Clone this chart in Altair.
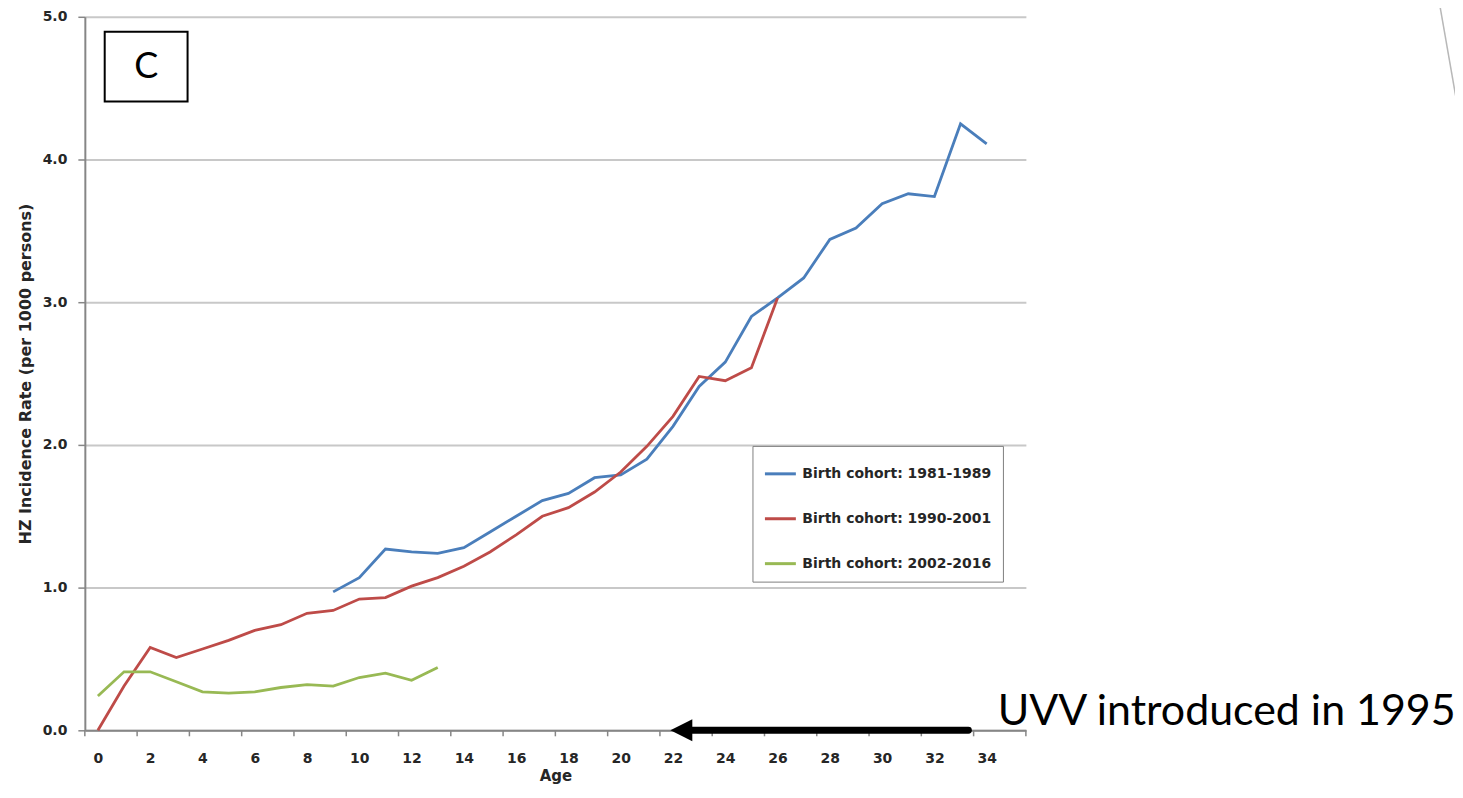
import altair as alt
import pandas as pd

# ---------------- data ----------------
cohorts = ["Birth cohort: 1981-1989", "Birth cohort: 1990-2001", "Birth cohort: 2002-2016"]
colors = ["#4A7EBB", "#BE4B48", "#98B954"]

ages_1981 = list(range(9, 35))
rate_1981 = [0.97, 1.07, 1.27, 1.25, 1.24, 1.28, 1.39, 1.50, 1.61, 1.66, 1.77, 1.79, 1.90,
             2.13, 2.41, 2.58, 2.90, 3.03, 3.17, 3.44, 3.52, 3.69, 3.76, 3.74, 4.25, 4.11]

ages_1990 = list(range(0, 27))
rate_1990 = [0.00, 0.31, 0.58, 0.51, 0.57, 0.63, 0.70, 0.74, 0.82, 0.84, 0.92, 0.93, 1.01,
             1.07, 1.15, 1.25, 1.37, 1.50, 1.56, 1.67, 1.81, 1.99, 2.20, 2.48, 2.45, 2.54, 3.03]

ages_2002 = list(range(0, 14))
rate_2002 = [0.24, 0.41, 0.41, 0.34, 0.27, 0.26, 0.27, 0.30, 0.32, 0.31, 0.37, 0.40, 0.35, 0.44]

x_label_values = list(range(0, 35, 2))
y_label_values = [0, 1, 2, 3, 4, 5]
x_tick_positions = [k - 0.5 for k in range(0, 37, 2)]   # ticks between categories

panel_letter = "C"
annotation_text = "UVV introduced in 1995"
annotation_pos = {"age": [34.42], "rate": [0.035]}
arrow_shaft = {"age": [22.6], "age2": [33.3], "rate": [0.0]}
arrow_head = {"age": [22.32], "rate": [0.0]}
letter_box = {"age": [0.26], "age2": [3.43], "rate": [4.895], "rate2": [4.406]}
letter_pos = {"age": [1.85], "rate": [4.65]}

# ---------------- tables ----------------
rows = []
for name, ages, rates in zip(cohorts, [ages_1981, ages_1990, ages_2002], [rate_1981, rate_1990, rate_2002]):
    for a, r in zip(ages, rates):
        rows.append({"age": a, "rate": r, "cohort": name})
df = pd.DataFrame(rows)

FONT = "DejaVu Sans"
AX = "#868686"
LBL = "#262626"

x_scale = alt.Scale(domain=[-0.5, 35.5], nice=False, zero=False)
y_scale = alt.Scale(domain=[0, 5], nice=False, zero=False)

x_axis = alt.Axis(values=x_label_values, ticks=False, tickSize=0, grid=False, title="Age",
                  labelFont=FONT, labelFontWeight="bold", labelFontSize=14, labelColor=LBL,
                  labelPadding=21, domainColor=AX, domainWidth=2,
                  titleFont=FONT, titleFontWeight="bold", titleFontSize=15, titleColor=LBL,
                  titleY=50, titleBaseline="alphabetic")
y_axis = alt.Axis(values=y_label_values, format=".1f", title="HZ Incidence Rate (per 1000 persons)",
                  labelFont=FONT, labelFontWeight="bold", labelFontSize=14, labelColor=LBL,
                  labelPadding=11, tickSize=7, tickColor=AX, tickWidth=1.5,
                  domainColor=AX, domainWidth=2, gridColor="#c8c8c8", gridWidth=2,
                  titleFont=FONT, titleFontWeight="bold", titleFontSize=16, titleColor=LBL,
                  titleX=-59, titleY=357.5, titleAngle=270, titleAlign="center", titleBaseline="middle")

legend = alt.Legend(title=None, orient="none", legendX=669, legendY=430, direction="vertical",
                    fillColor="white", strokeColor="#7f7f7f", padding=11,
                    symbolType="stroke", symbolSize=961, symbolStrokeWidth=3,
                    labelFont=FONT, labelFontWeight="bold", labelFontSize=14, labelColor=LBL,
                    labelLimit=400, labelOffset=5, rowPadding=21)

lines = alt.Chart(df).mark_line(strokeWidth=2.8).encode(
    x=alt.X("age:Q", scale=x_scale, axis=x_axis),
    y=alt.Y("rate:Q", scale=y_scale, axis=y_axis),
    color=alt.Color("cohort:N", scale=alt.Scale(domain=cohorts, range=colors), legend=legend),
)

ticks = alt.Chart(pd.DataFrame({"age": x_tick_positions})).mark_rule(color=AX, strokeWidth=1.5).encode(
    x="age:Q", y=alt.value(715), y2=alt.value(721)
)

box = alt.Chart(pd.DataFrame(letter_box)).mark_rect(fill="white", stroke="black", strokeWidth=2).encode(
    x="age:Q", x2="age2:Q", y="rate:Q", y2="rate2:Q"
)
letter = alt.Chart(pd.DataFrame(letter_pos)).mark_text(
    text=panel_letter, font="Lato", fontSize=36, color="black", align="center", baseline="middle"
).encode(x="age:Q", y="rate:Q")

shaft = alt.Chart(pd.DataFrame(arrow_shaft)).mark_rule(color="black", strokeWidth=7, strokeCap="round").encode(
    x="age:Q", x2="age2:Q", y="rate:Q"
)
head = alt.Chart(pd.DataFrame(arrow_head)).mark_point(
    shape="M-1,0L1,-1L1,1Z", filled=True, size=484, color="black", opacity=1
).encode(x="age:Q", y="rate:Q")

note = alt.Chart(pd.DataFrame(annotation_pos)).mark_text(
    text=annotation_text, font="Lato", fontSize=43, color="black", align="left", baseline="alphabetic"
).encode(x="age:Q", y="rate:Q")

slant = alt.Chart(pd.DataFrame({"k": [0]})).mark_rule(color="#b8b8b8", strokeWidth=1.5).encode(
    x=alt.value(1357), y=alt.value(-16), x2=alt.value(1378), y2=alt.value(104)
)

chart = alt.layer(lines, ticks, box, letter, shaft, head, note, slant).properties(
    width=943, height=715,
    autosize=alt.AutoSizeParams(type="none"),
    padding={"left": 77, "top": 8, "right": 430, "bottom": 55},
    background="white",
).configure_view(stroke=None)

chart.save("out.html", embed_options={"renderer": "svg", "actions": False})
